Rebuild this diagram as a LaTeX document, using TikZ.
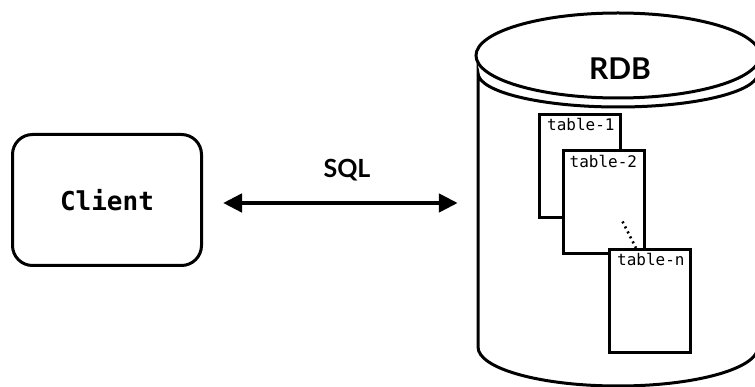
\documentclass[tikz,border=0pt]{standalone}
\usepackage{fontspec}
\usetikzlibrary{arrows.meta}
\newfontfamily\headfont{Lato}
\newfontfamily\codefont{DejaVu Sans Mono}
\begin{document}
\begin{tikzpicture}[x=1pt,y=1pt,
  outline/.style={draw=black, line width=3pt},
  clientbox/.style={outline, rounded corners=20pt, minimum width=189pt, minimum height=131pt, inner sep=0pt, fill=white},
  tablebox/.style={outline, fill=white, minimum width=81pt, minimum height=103pt, inner sep=0pt},
  tablelabel/.style={anchor=base west, inner sep=0pt, font=\codefont\fontsize{16}{18}\selectfont},
  headlabel/.style={inner sep=0pt, anchor=base, font=\headfont\bfseries\fontsize{30}{34}\selectfont},
  sqllabel/.style={inner sep=0pt, anchor=base, font=\headfont\bfseries\fontsize{25}{28}\selectfont},
  link/.style={line width=4.5pt, {Triangle[length=19pt,width=18pt]}-{Triangle[length=19pt,width=18pt]}},
  dots/.style={line width=2.6pt, dash pattern=on 2pt off 3.6pt}
]
\useasboundingbox (0,0) rectangle (755,-387);
\clip (0,0) rectangle (755,-387);

% client
\node[clientbox] (client) at (107,-200) {\codefont\bfseries\fontsize{26}{30}\selectfont Client};

% database (cylinder drawn directly, invisible frame node for connections)
\node[draw=none, minimum width=284pt, minimum height=373pt, inner sep=0pt] (db) at (618,-200) {};
\draw[outline, fill=white] (478,-73) -- (478,-347) arc (180:360:140 and 39) -- (758,-73) arc (0:-180:140 and 34) -- cycle;
\draw[outline, fill=white] (618,-55.5) ellipse (142 and 42.5);
\node[headlabel] (rdb) at (620,-80) {RDB};

% tables
\node[tablebox] (t1) at (580,-166) {};
\node[tablelabel] (l1) at ([shift={(9,-18)}]t1.north west) {table-1};
\node[tablebox] (t2) at (603.5,-202.5) {};
\node[tablelabel] (l2) at ([shift={(8,-18)}]t2.north west) {table-2};
\node[tablebox] (tn) at (650,-301) {};
\node[tablelabel] (ln) at ([shift={(9,-18)}]tn.north west) {table-n};
\draw[dots] ([shift={(-23,34)}]t2.south east) -- ([xshift=28pt]tn.north west);

% connector
\draw[link] ([shift={(20,-3)}]client.east) -- ([shift={(-18,-3)}]client.east -| db.west);
\node[sqllabel] (sql) at (347,-178) {SQL};
\end{tikzpicture}
\end{document}
